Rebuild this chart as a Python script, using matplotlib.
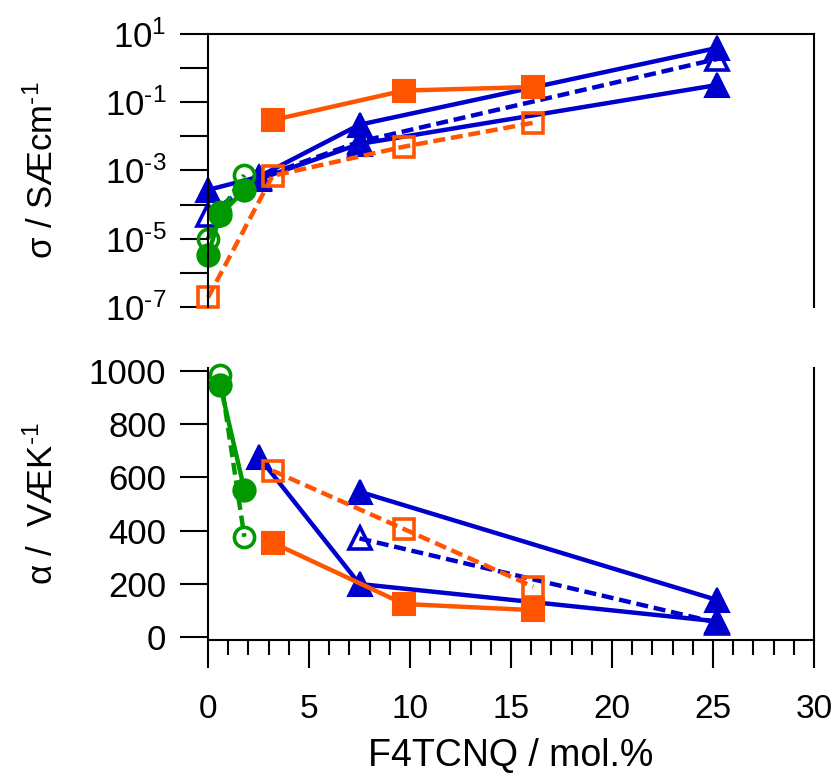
import numpy as np
import matplotlib
matplotlib.use('Agg')
import matplotlib.pyplot as plt
from matplotlib.ticker import FixedLocator, MultipleLocator

plt.rcParams['font.family'] = ['Liberation Sans', 'DejaVu Sans']
plt.rcParams['mathtext.fontset'] = 'custom'
plt.rcParams['mathtext.rm'] = 'Liberation Sans'
plt.rcParams['mathtext.default'] = 'regular'

# --- data ---
# top panel: conductivity sigma / S cm-1
or_fill_x = [3.2, 9.7, 16.1]
or_fill_sig = [0.03, 0.22, 0.28]
or_open_x = [0.0, 3.2, 9.7, 16.1]
or_open_sig = [1.9e-7, 7e-4, 5e-3, 0.025]
bl_fill1_x = [0.0, 2.5, 7.5, 25.2]
bl_fill1_sig = [2.7e-4, 6.5e-4, 0.022, 3.9]
bl_fill2_x = [2.5, 7.5, 25.2]
bl_fill2_sig = [5.5e-4, 6e-3, 0.32]
bl_open_x = [0.0, 2.5, 7.5, 25.2]
bl_open_sig = [4.9e-5, 6e-4, 7e-3, 1.85]
gr_fill_x = [0.0, 0.6, 1.8]
gr_fill_sig = [3.3e-6, 4.9e-5, 2.7e-4]
gr_open_x = [0.0, 0.6, 1.8]
gr_open_sig = [1.0e-5, 6e-5, 7.4e-4]

# bottom panel: Seebeck alpha / uV K-1
or_fill_a_x = [3.2, 9.7, 16.1]
or_fill_a = [355, 125, 102]
or_open_a_x = [3.2, 9.7, 16.1]
or_open_a = [625, 406, 190]
bl_fill1_a_x = [2.5, 7.5, 25.2]
bl_fill1_a = [678, 200, 60]
bl_fill2_a_x = [7.5, 25.2]
bl_fill2_a = [546, 140]
bl_open_a_x = [7.5, 25.2]
bl_open_a = [371, 55]
gr_fill_a_x = [0.6, 1.8]
gr_fill_a = [947, 553]
gr_open_a_x = [0.6, 1.8]
gr_open_a = [984, 377]

top_ticks = [10.0**e for e in range(-7, 2)]
top_labels = [r'10$^{\text{%d}}$' % e if e % 2 else '' for e in range(-7, 2)]

ORANGE = '#ff5500'
BLUE = '#0000cc'
GREEN = '#009900'
LW = 3.2
DASH = (0, (2.7, 1.3))

fig = plt.figure(figsize=(8.38, 7.78), dpi=100)
ax1 = fig.add_axes([208/838, 1-307/778, 606/838, 273/778])
ax2 = fig.add_axes([208/838, 1-640/778, 606/838, 272/778])


def draw(ax, x, y, color, filled, marker, ms):
    if filled:
        ax.plot(x, y, '-', color=color, lw=LW, marker=marker, ms=ms,
                mfc=color, mec=color, mew=1.5, clip_on=False)
    else:
        ax.plot(x, y, color=color, lw=LW, linestyle=DASH, marker=marker,
                ms=ms - 1.5, mfc='none', mec=color, mew=2.6, clip_on=False)


# top panel
draw(ax1, bl_fill1_x, bl_fill1_sig, BLUE, True, '^', 17)
draw(ax1, bl_fill2_x, bl_fill2_sig, BLUE, True, '^', 17)
draw(ax1, bl_open_x, bl_open_sig, BLUE, False, '^', 17)
draw(ax1, or_open_x, or_open_sig, ORANGE, False, 's', 15.5)
draw(ax1, or_fill_x, or_fill_sig, ORANGE, True, 's', 15.5)
draw(ax1, gr_open_x, gr_open_sig, GREEN, False, 'o', 16)
draw(ax1, gr_fill_x, gr_fill_sig, GREEN, True, 'o', 16)

# bottom panel
draw(ax2, bl_fill1_a_x, bl_fill1_a, BLUE, True, '^', 17)
draw(ax2, bl_fill2_a_x, bl_fill2_a, BLUE, True, '^', 17)
draw(ax2, bl_open_a_x, bl_open_a, BLUE, False, '^', 17)
draw(ax2, or_open_a_x, or_open_a, ORANGE, False, 's', 15.5)
draw(ax2, or_fill_a_x, or_fill_a, ORANGE, True, 's', 15.5)
draw(ax2, gr_open_a_x, gr_open_a, GREEN, False, 'o', 16)
draw(ax2, gr_fill_a_x, gr_fill_a, GREEN, True, 'o', 16)

for ax in (ax1, ax2):
    ax.set_xlim(0, 30)
    for s in ax.spines.values():
        s.set_linewidth(1.5)
    ax.tick_params(axis='y', direction='out', length=20, width=1.5,
                   labelsize=25, pad=10, right=False)

# top axes styling
ax1.set_yscale('log')
ax1.set_ylim(1e-7, 10)
ax1.yaxis.set_major_locator(FixedLocator(top_ticks))
ax1.yaxis.set_minor_locator(FixedLocator([]))
ax1.set_yticklabels(top_labels)
ax1.set_xticks([])
ax1.spines['bottom'].set_visible(False)
ax1.set_ylabel(r'σ / SÆcm$^{\text{-1}}$', fontsize=25)
ax1.yaxis.set_label_coords(-0.245, 0.5)

# bottom axes styling
ax2.set_ylim(-10, 1010)
ax2.set_yticks(np.arange(0, 1001, 200))
ax2.xaxis.set_major_locator(MultipleLocator(5))
ax2.xaxis.set_minor_locator(MultipleLocator(1))
ax2.tick_params(axis='x', which='major', direction='out', length=20,
                width=1.5, labelsize=24, pad=19)
ax2.tick_params(axis='x', which='minor', direction='out', length=11,
                width=1.5)
ax2.spines['top'].set_visible(False)
ax2.set_ylabel(r'α /  VÆK$^{\text{-1}}$', fontsize=25)
ax2.yaxis.set_label_coords(-0.245, 0.5)
ax2.set_xlabel('F4TCNQ / mol.%', fontsize=27, labelpad=9)

fig.savefig('out.png', dpi=100)
